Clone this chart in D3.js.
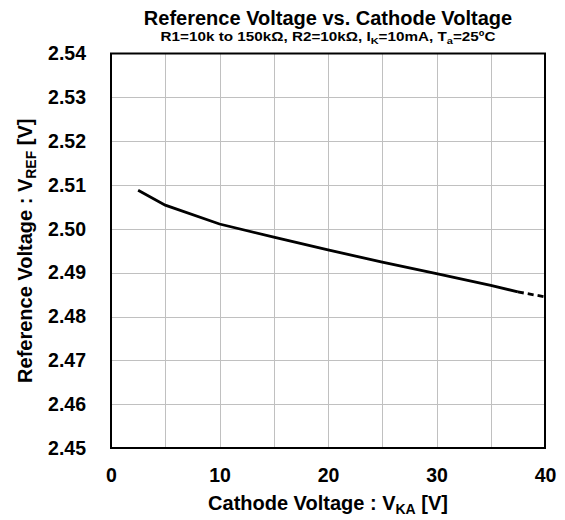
<!DOCTYPE html>
<html>
<head>
<meta charset="utf-8">
<script src="https://cdn.jsdelivr.net/npm/d3@7"></script>
<style>
  body { margin: 0; background: #fff; }
  text { font-family: "Liberation Sans", Arial, sans-serif; font-weight: bold; fill: #000; }
</style>
</head>
<body>
<div id="chart"></div>
<script>
// measured curve (solid part) and dashed extension
var vka = [2.5, 5, 10, 15, 20, 25, 30, 35, 37.5];
var vref = [2.5088, 2.5054, 2.5011, 2.4981, 2.4952, 2.4924, 2.4898, 2.4871, 2.4856];
var vkaExt = [37.5, 40];
var vrefExt = [2.4856, 2.4845];

var xTicks = [0, 10, 20, 30, 40];
var yTicks = [2.45, 2.46, 2.47, 2.48, 2.49, 2.50, 2.51, 2.52, 2.53, 2.54];

var width = 565, height = 520;
var margin = { left: 111, right: 20, top: 53.5, bottom: 72 };

var svg = d3.select("#chart")
    .append("svg")
    .attr("width", width)
    .attr("height", height);

var x = d3.scaleLinear().domain([0, 40]).range([margin.left, width - margin.right]);
var y = d3.scaleLinear().domain([2.45, 2.54]).range([height - margin.bottom, margin.top]);

// grid
svg.append("g")
    .selectAll("line")
    .data(d3.range(5, 40, 5))
    .enter().append("line")
    .attr("x1", function(d) { return Math.round(x(d)) + 0.5; })
    .attr("x2", function(d) { return Math.round(x(d)) + 0.5; })
    .attr("y1", y(2.54))
    .attr("y2", y(2.45))
    .attr("stroke", "#c0c0c0")
    .attr("stroke-width", 1);

svg.append("g")
    .selectAll("line")
    .data(yTicks.slice(1, -1))
    .enter().append("line")
    .attr("y1", function(d) { return Math.round(y(d)) + 0.5; })
    .attr("y2", function(d) { return Math.round(y(d)) + 0.5; })
    .attr("x1", x(0))
    .attr("x2", x(40))
    .attr("stroke", "#c0c0c0")
    .attr("stroke-width", 1);

// curve
var line = d3.line()
    .x(function(d) { return x(d[0]); })
    .y(function(d) { return y(d[1]); });

svg.append("path")
    .datum(d3.zip(vka, vref))
    .attr("d", line)
    .attr("fill", "none")
    .attr("stroke", "#000")
    .attr("stroke-width", 2.8);

svg.append("path")
    .datum(d3.zip(vkaExt, vrefExt))
    .attr("d", line)
    .attr("fill", "none")
    .attr("stroke", "#000")
    .attr("stroke-width", 2.8)
    .attr("stroke-dasharray", "6,4");

// frame
svg.append("rect")
    .attr("x", x(0))
    .attr("y", y(2.54))
    .attr("width", x(40) - x(0))
    .attr("height", y(2.45) - y(2.54))
    .attr("fill", "none")
    .attr("stroke", "#000")
    .attr("stroke-width", 2);

// axes (labels only)
var xAxis = svg.append("g")
    .attr("transform", "translate(0," + y(2.45) + ")")
    .call(d3.axisBottom(x).tickValues(xTicks).tickSize(0).tickPadding(20).tickFormat(d3.format("d")));
xAxis.select(".domain").remove();
xAxis.selectAll("text").style("font-size", "19.5px").style("font-family", "Liberation Sans, Arial, sans-serif").style("font-weight", "bold");

var yAxis = svg.append("g")
    .attr("transform", "translate(" + x(0) + ",0)")
    .call(d3.axisLeft(y).tickValues(yTicks).tickSize(0).tickPadding(25).tickFormat(d3.format(".2f")));
yAxis.select(".domain").remove();
yAxis.selectAll("text").style("font-size", "19.5px").style("font-family", "Liberation Sans, Arial, sans-serif").style("font-weight", "bold");

// titles
var cx = (x(0) + x(40)) / 2;
svg.append("text")
    .attr("x", cx).attr("y", 25)
    .attr("text-anchor", "middle")
    .style("font-size", "20px")
    .text("Reference Voltage vs. Cathode Voltage");

// subtitle is drawn wider than its height in the original, so stretch it
var sub = svg.append("text")
    .attr("x", 0).attr("y", 0)
    .attr("text-anchor", "middle")
    .style("font-size", "12.5px");
sub.append("tspan").text("R1=10k to 150kΩ, R2=10kΩ, I");
sub.append("tspan").attr("dy", 3).style("font-size", "9px").text("K");
sub.append("tspan").attr("dy", -3).text("=10mA, T");
sub.append("tspan").attr("dy", 3).style("font-size", "9px").text("a");
sub.append("tspan").attr("dy", -3).text("=25ºC");
var sw = sub.node().getBBox().width;
sub.attr("transform", "translate(" + cx + ",41) scale(" + (335 / sw) + ",1)");

var xt = svg.append("text")
    .attr("x", cx).attr("y", 510)
    .attr("text-anchor", "middle")
    .style("font-size", "20px");
xt.append("tspan").text("Cathode Voltage : V");
xt.append("tspan").attr("dy", 4).style("font-size", "14px").text("KA");
xt.append("tspan").attr("dy", -4).text(" [V]");

var cy = (y(2.45) + y(2.54)) / 2;
var yt = svg.append("text")
    .attr("transform", "translate(32," + cy + ") rotate(-90)")
    .attr("text-anchor", "middle")
    .style("font-size", "20px");
yt.append("tspan").text("Reference Voltage : V");
yt.append("tspan").attr("dy", 4).style("font-size", "14px").text("REF");
yt.append("tspan").attr("dy", -4).text(" [V]");
</script>
</body>
</html>
